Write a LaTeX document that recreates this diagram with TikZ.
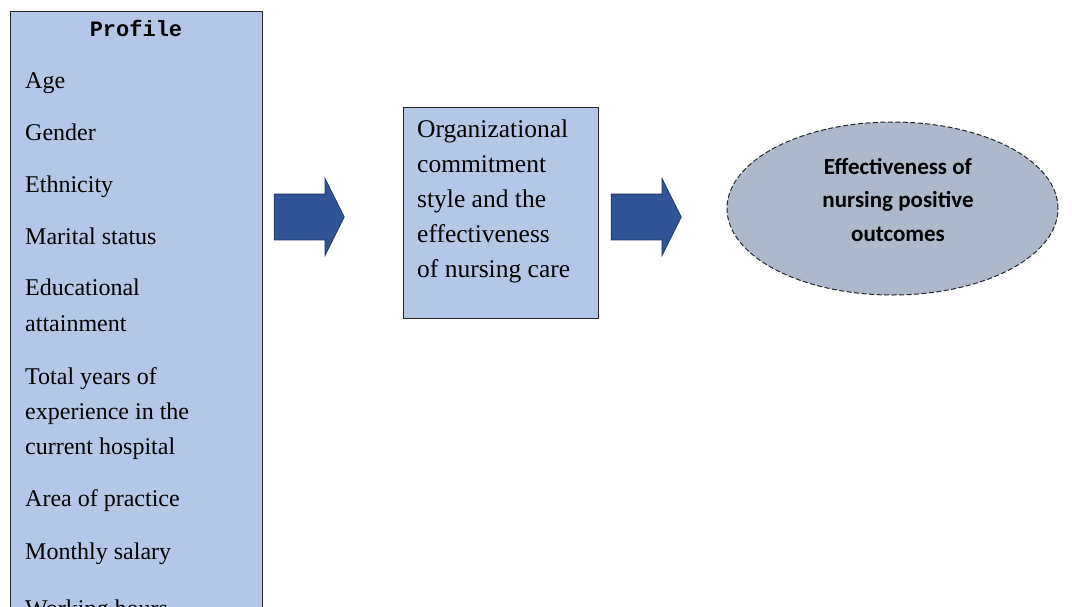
\documentclass[tikz,border=0pt]{standalone}
\usepackage{fontspec}
\setmainfont{Liberation Serif}
\setmonofont{Liberation Mono}
\newfontfamily\ovalfont{Carlito}
\usepackage{tikz}
\usetikzlibrary{shapes.geometric,shapes.arrows,positioning}
\definecolor{boxblue}{HTML}{B4C7E7}
\definecolor{arrowblue}{HTML}{2F5597}
\definecolor{arrowline}{HTML}{1F3864}
\definecolor{ovalgrey}{HTML}{ADB9CA}

\begin{document}
\begin{tikzpicture}[
    x=1pt, y=-1pt,
    box/.style={draw=black!85, line width=1pt, fill=boxblue, inner sep=0pt},
    item/.style={anchor=base west, inner sep=0pt, font=\fontsize{24}{28}\selectfont},
    blockarrow/.style={single arrow, draw=arrowline, line width=0.8pt, fill=arrowblue,
                inner sep=0pt, text height=45pt, text depth=0pt, minimum height=70pt,
                single arrow head extend=15.5pt, single arrow tip angle=127},
    oval/.style={ellipse, draw=black!85, dash pattern=on 5pt off 2.5pt, line width=1pt,
                fill=ovalgrey, minimum width=331pt, minimum height=173pt},
    ovaltext/.style={anchor=base, inner sep=0pt, font=\ovalfont\bfseries\fontsize{23}{32}\selectfont}
  ]
  \useasboundingbox (0,0) rectangle (1072,606);
  \clip (0,0) rectangle (1072,606);
  \fill[white] (0,0) rectangle (1072,606);

  % Profile
  \node[box, anchor=north west, minimum width=252pt, minimum height=640pt] (profile) at (10,11) {};
  \node[anchor=base, inner sep=0pt, font=\ttfamily\bfseries\fontsize{22}{26}\selectfont] (ptitle) at (136,36) {Profile};
  \foreach \y/\t [count=\i] in {88/Age, 140/Gender, 192/Ethnicity, 244/Marital status,
      295/Educational, 331/attainment, 384/Total years of, 419/experience in the,
      454/current hospital, 506/Area of practice, 559/Monthly salary, 616/Working hours}
    \node[item] (p\i) at (25,\y) {\t};

  % Commitment
  \node[box, anchor=north west, minimum width=195pt, minimum height=211pt] (mid) at (403,107) {};
  \foreach \y/\t [count=\i] in {137/Organizational, 172/commitment, 207/style and the,
      242/effectiveness, 277/of nursing care}
    \node[item, font=\fontsize{25.5}{30}\selectfont] (m\i) at (417,\y) {\t};

  % Outcomes
  \node[oval] (out) at (892.5,208.5) {};
  \foreach \y/\t [count=\i] in {174/Effectiveness of, 207.5/nursing positive, 241/outcomes}
    \node[ovaltext] (o\i) at (898,\y) {\t};

  % Arrows
  \node[blockarrow] (a1) at (303.5,217) {};
  \node[blockarrow] (a2) at (640.5,217) {};
\end{tikzpicture}
\end{document}
